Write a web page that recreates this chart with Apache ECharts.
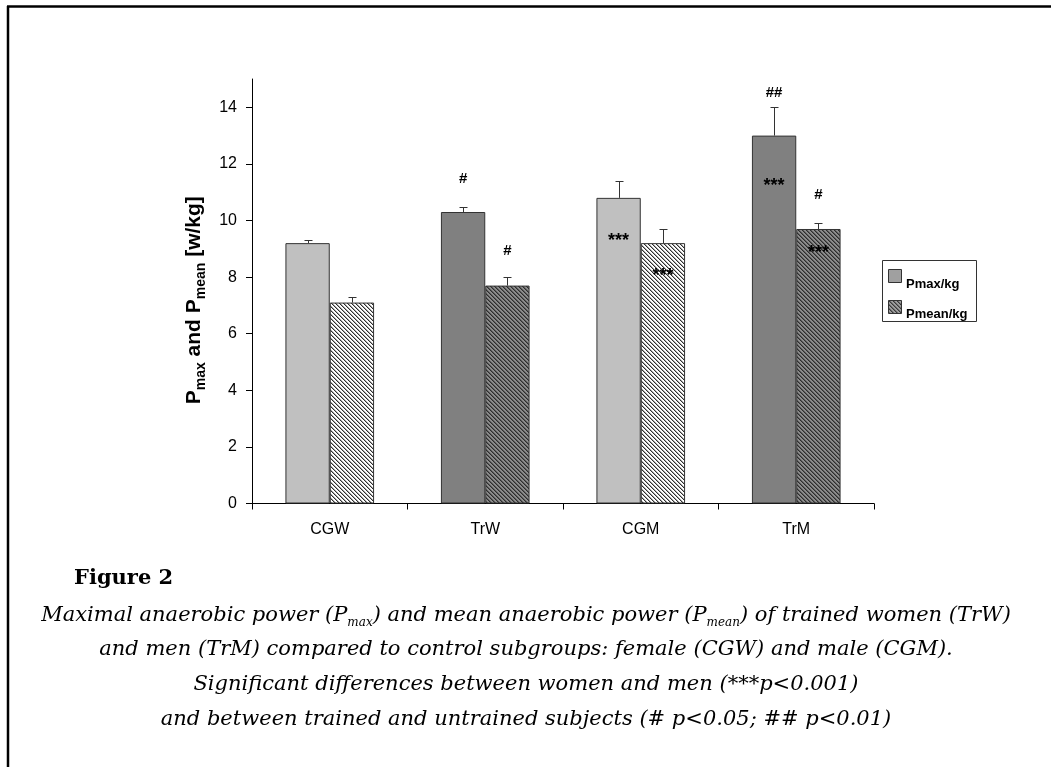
<!DOCTYPE html>
<html>
<head>
<meta charset="utf-8">
<script src="https://cdn.jsdelivr.net/npm/echarts@6/dist/echarts.min.js"></script>
<style>
html,body{margin:0;padding:0;background:#fff;}
#chart{width:1051px;height:767px;}
</style>
</head>
<body>
<div id="chart"></div>
<script>
// ---- data ----
const categories = ['CGW', 'TrW', 'CGM', 'TrM'];
const pmax = [9.2, 10.3, 10.8, 13.0];
const pmaxErr = [0.1, 0.17, 0.6, 1.0];
const pmean = [7.1, 7.7, 9.2, 9.7];
const pmeanErr = [0.18, 0.3, 0.5, 0.2];
const yTicks = [0, 2, 4, 6, 8, 10, 12, 14];
// significance marks: text and the value level at which they sit
const pmaxAbove = ['', '#', '', '##'];
const pmaxAboveAt = [null, 11.48, null, 14.52];
const pmaxInside = ['', '', '***', '***'];
const pmaxInsideAt = [null, null, 9.4, 11.35];
const pmeanAbove = ['', '#', '', '#'];
const pmeanAboveAt = [null, 8.93, null, 10.92];
const pmeanInside = ['', '', '***', '***'];
const pmeanInsideAt = [null, null, 8.19, 8.98];
const seriesNames = ['Pmax/kg', 'Pmean/kg'];

// ---- styles ----
const FONT = 'Liberation Sans, Arial, sans-serif';
const SERIF = 'DejaVu Serif, serif';
const BAR_FRAC = 0.285;
function hatchCanvas(bg, fg, mid) {
  const c = document.createElement('canvas');
  c.width = 4; c.height = 4;
  const g = c.getContext('2d');
  g.fillStyle = bg; g.fillRect(0, 0, 4, 4);
  for (let k = 0; k < 4; k++) {
    g.fillStyle = fg; g.fillRect(k, k, 1, 1);
    g.fillStyle = mid; g.fillRect((k + 1) % 4, k, 1, 1);
  }
  return c;
}
function hatch(bg, fg, mid) { return { image: hatchCanvas(bg, fg, mid), repeat: 'repeat' }; }
const lightHatch = hatch('#ffffff', '#303030', '#a8a8a8');
const darkHatch = hatch('#8c8c8c', '#2e2e2e', '#5a5a5a');
const pmaxFills = ['#c0c0c0', '#808080', '#c0c0c0', '#808080'];
const pmeanFills = [lightHatch, darkHatch, lightHatch, darkHatch];

const chart = echarts.init(document.getElementById('chart'), null, { renderer: 'canvas' });

function renderMarks(params, api) {
  const i = params.dataIndex;
  const band = api.size([1, 0])[0];
  const bw = band * BAR_FRAC;
  const children = [];
  function errBar(dx, v, e) {
    const p0 = api.coord([i, v]);
    const p1 = api.coord([i, v + e]);
    const x = Math.round(p0[0] + dx) + 0.5;
    const yt = Math.round(p1[1]) + 0.5;
    children.push({ type: 'line', shape: { x1: x, y1: p0[1], x2: x, y2: yt }, style: { stroke: '#333', lineWidth: 1 } });
    children.push({ type: 'line', shape: { x1: x - 4, y1: yt, x2: x + 4, y2: yt }, style: { stroke: '#333', lineWidth: 1 } });
  }
  function mark(dx, txt, at) {
    if (!txt) return;
    const p = api.coord([i, at]);
    const star = txt.indexOf('*') >= 0;
    children.push({
      type: 'text', x: p[0] + dx, y: p[1] + (star ? 4 : 0),
      style: { text: txt, font: 'bold ' + (star ? 18 : 15) + 'px ' + FONT, fill: '#000',
        align: 'center', verticalAlign: 'middle', textAlign: 'center', textVerticalAlign: 'middle' }
    });
  }
  errBar(-bw / 2, pmax[i], pmaxErr[i]);
  errBar(bw / 2, pmean[i], pmeanErr[i]);
  mark(-bw / 2, pmaxAbove[i], pmaxAboveAt[i]);
  mark(-bw / 2, pmaxInside[i], pmaxInsideAt[i]);
  mark(bw / 2, pmeanAbove[i], pmeanAboveAt[i]);
  mark(bw / 2, pmeanInside[i], pmeanInsideAt[i]);
  return { type: 'group', children };
}

const caption = [
  '{i|Maximal anaerobic power (P}{s|max}{i|) and mean anaerobic power (P}{s|mean}{i|) of trained women (TrW)}',
  '{i|and men (TrM) compared to control subgroups: female (CGW) and male (CGM).}',
  '{i|Significant differences between women and men (***p<0.001)}',
  '{i|and between trained and untrained subjects (# p<0.05; ## p<0.01)}'
];
const captionY = [616, 650, 685, 720];
const capRich = {
  i: { fontFamily: SERIF, fontStyle: 'italic', fontSize: 21, lineHeight: 26, fill: '#000', color: '#000' },
  s: { fontFamily: SERIF, fontStyle: 'italic', fontSize: 12, lineHeight: 12, verticalAlign: 'bottom', fill: '#000', color: '#000' }
};

// legend drawn as a boxed key (Excel style: label sits low beside the swatch)
const legendItems = [
  { name: seriesNames[0], fill: '#a0a0a0', pattern: null, y: 269.5, ty: 284 },
  { name: seriesNames[1], fill: null, pattern: hatchCanvas('#9c9c9c', '#3a3a3a', '#6a6a6a'), y: 300.5, ty: 314 }
];
const legendGraphics = [
  { type: 'rect', shape: { x: 882.5, y: 260.5, width: 94, height: 61 }, style: { fill: '#fff', stroke: '#333', lineWidth: 1 }, z: 10 }
];
legendItems.forEach(it => {
  legendGraphics.push({ type: 'rect', shape: { x: 888.5, y: it.y, width: 13, height: 13 },
    style: { fill: it.pattern ? { image: it.pattern, repeat: 'repeat' } : it.fill, stroke: '#333', lineWidth: 1 }, z: 11 });
  legendGraphics.push({ type: 'text', x: 906, y: it.ty,
    style: { text: it.name, font: 'bold 13px ' + FONT, fill: '#000', verticalAlign: 'middle', textVerticalAlign: 'middle' }, z: 11 });
});

const option = {
  backgroundColor: '#fff',
  animation: false,
  grid: { left: 252, top: 79, width: 622, height: 424.5 },
  xAxis: {
    type: 'category',
    data: categories,
    axisLine: { lineStyle: { color: '#000', width: 1 } },
    axisTick: { show: true, length: 6, lineStyle: { color: '#000' } },
    axisLabel: { fontFamily: FONT, fontSize: 16, color: '#000', margin: 18 },
    splitLine: { show: false }
  },
  yAxis: {
    type: 'value',
    min: 0, max: 15,
    axisLine: { show: true, lineStyle: { color: '#000', width: 1 } },
    axisTick: { show: true, length: 6, lineStyle: { color: '#000' }, customValues: yTicks },
    axisLabel: { fontFamily: FONT, fontSize: 16, color: '#000', margin: 15, customValues: yTicks },
    splitLine: { show: false },
    name: '{b|P}{s|max}{b| and P}{s|mean}{b| [w/kg]}',
    nameLocation: 'middle',
    nameRotate: 90,
    nameGap: 44,
    nameTextStyle: {
      padding: [0, 18, 0, 0],
      rich: {
        b: { fontFamily: FONT, fontSize: 21, fontWeight: 'bold', lineHeight: 28, color: '#000' },
        s: { fontFamily: FONT, fontSize: 14, fontWeight: 'bold', lineHeight: 14, verticalAlign: 'bottom', color: '#000' }
      }
    }
  },
  series: [
    {
      name: seriesNames[0], type: 'bar', barWidth: (BAR_FRAC * 100) + '%', barGap: '0%',
      data: pmax.map((v, i) => ({ value: v, itemStyle: { color: pmaxFills[i] } })),
      itemStyle: { borderColor: '#333', borderWidth: 1 }
    },
    {
      name: seriesNames[1], type: 'bar', barWidth: (BAR_FRAC * 100) + '%', barGap: '0%',
      data: pmean.map((v, i) => ({ value: v, itemStyle: { color: pmeanFills[i] } })),
      itemStyle: { borderColor: '#333', borderWidth: 1 }
    },
    {
      type: 'custom', z: 5,
      renderItem: renderMarks,
      encode: { x: 0, y: 1 },
      data: categories.map((c, i) => [i, pmax[i] + pmaxErr[i]]),
      tooltip: { show: false }
    }
  ],
  graphic: [
    { type: 'line', shape: { x1: 7, y1: 6.5, x2: 1051, y2: 6.5 }, style: { stroke: '#000', lineWidth: 2.5 } },
    { type: 'line', shape: { x1: 8, y1: 6, x2: 8, y2: 767 }, style: { stroke: '#000', lineWidth: 2.5 } },
    { type: 'text', x: 74, y: 579,
      style: { text: 'Figure 2', font: 'bold 21px ' + SERIF, fill: '#000', verticalAlign: 'middle', textVerticalAlign: 'middle' } }
  ].concat(caption.map((t, k) => ({
    type: 'text', x: 526, y: captionY[k],
    style: { text: t, rich: capRich, fill: '#000', align: 'center', textAlign: 'center', verticalAlign: 'middle', textVerticalAlign: 'middle' }
  }))).concat(legendGraphics)
};
chart.setOption(option);
</script>
</body>
</html>
